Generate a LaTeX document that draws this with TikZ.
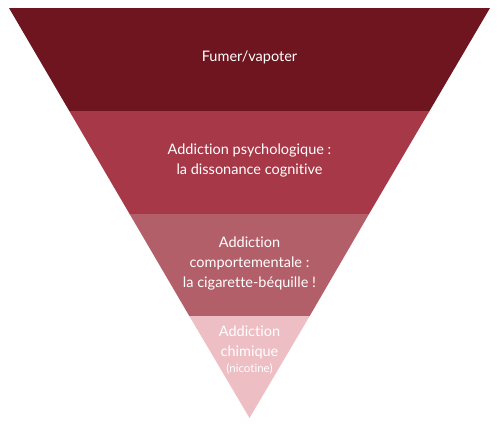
\documentclass[tikz,border=0pt]{standalone}
\usepackage{fontspec}
\setmainfont[Ligatures=NoCommon]{Lato}
\definecolor{c1}{HTML}{6E1520}
\definecolor{c2}{HTML}{A63848}
\definecolor{c3}{HTML}{B35F6A}
\definecolor{c4}{HTML}{EDBEC4}
\tikzset{lbl/.style={text=white,align=center,font=\fontsize{14.5}{20}\selectfont}}
\begin{document}
\begin{tikzpicture}[x=1pt,y=-1pt]
\useasboundingbox (0,0) rectangle (500,434);
\fill[c1] (9,8) -- (490,8) -- (429.5,111) -- (69.3,111) -- cycle;
\fill[c2] (69.3,111) -- (429.5,111) -- (369,214) -- (129.6,214) -- cycle;
\fill[c3] (129.6,214) -- (369,214) -- (309.7,316) -- (189.3,316) -- cycle;
\fill[c4] (189.3,316) -- (309.7,316) -- (249.5,418) -- cycle;
\node[lbl] (t1) at (249.5,57) {Fumer/vapoter};
\node[lbl] (t2) at (249.5,160) {Addiction psychologique :\\la dissonance cognitive};
\node[lbl] (t3) at (249.5,263) {Addiction\\comportementale :\\la cigarette-béquille !};
\node[lbl] (t4) at (249.5,342) {Addiction\\chimique};
\node[text=white,font=\fontsize{11.5}{13}\selectfont] (t5) at (249.5,369) {(nicotine)};
\end{tikzpicture}
\end{document}
